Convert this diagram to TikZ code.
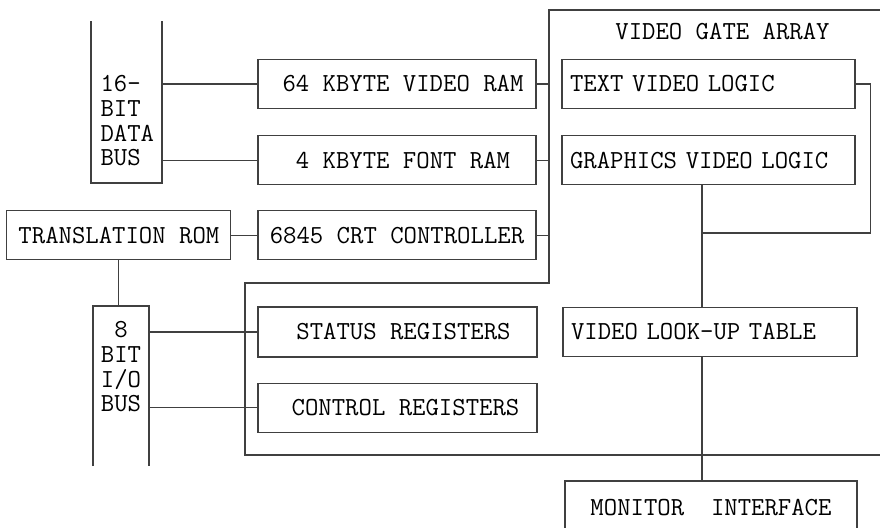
\documentclass[tikz,border=0pt]{standalone}
\usepackage{fontspec}
\usetikzlibrary{positioning,calc}

\begin{document}
\begin{tikzpicture}[x=0.5pt,y=-0.5pt,
    line width=0.55pt, draw=black!75,
    blk/.style={draw, rectangle, inner sep=0pt, minimum height=24.5pt, font=\ttfamily\fontsize{13}{12.35}\selectfont},
    blkl/.style={blk, text width=138.5pt, inner xsep=4pt, align=left},
    txt/.style={inner sep=0pt, font=\ttfamily\fontsize{13}{12.35}\selectfont}
]
    \useasboundingbox (0,0) rectangle (880,527);
    \clip (0,0) rectangle (880,527);

    % memory column
    \node[blk, minimum width=139pt] (vram) at (397,84) {\hspace{6pt}64 KBYTE VIDEO RAM};
    \node[blk, minimum width=139pt, below=13pt of vram] (fram) {\hspace{6pt}4 KBYTE FONT RAM};
    \node[blk, minimum width=139pt, below=12.5pt of fram] (crtc) {6845 CRT CONTROLLER};
    \node[blk, minimum width=112pt, left=13pt of crtc] (trom) {TRANSLATION ROM};

    \node[blk, minimum width=139.5pt, minimum height=25pt] (status) at (397.5,332) {\hspace{6pt}STATUS REGISTERS};
    \node[blk, minimum width=139.5pt, below=12.5pt of status] (control) {\hspace{8pt}CONTROL REGISTERS};

    % video gate array
    \node[txt, anchor=base] (galabel) at (722.5,39) {VIDEO GATE ARRAY};
    \node[blkl] (tvl) at (708.5,84) {TEXT VIDEO LOGIC};
    \node[blkl, below=13pt of tvl] (gvl) {GRAPHICS VIDEO LOGIC};
    \node[blkl, text width=139pt] (lut) at (710,332) {VIDEO LOOK-UP TABLE};
    \node[blk, minimum width=146pt, minimum height=27pt] (mon) at (711,508) {MONITOR\ \ INTERFACE};

    \coordinate (gal) at (549,10);
    \draw (880,10) -| (549,283) -| (245,455) -- (880,455);

    % buses
    \coordinate (dbl) at (91,21);
    \coordinate (dbr) at (162,183);
    \draw (dbl) |- (dbr) -- (dbr |- dbl);
    \node[txt, anchor=north west, align=left] (dbus) at (100,75) {16-\\BIT\\DATA\\BUS};

    \coordinate (iol) at (93,466);
    \coordinate (ior) at (149,306);
    \draw (iol) |- (ior) -- (ior |- iol);
    \node[txt, anchor=north, align=center] (iobus) at (121,321) {8\\BIT\\I/O\\BUS};

    % connections
    \draw (vram.west -| dbr) -- (vram.west);
    \draw (fram.west -| dbr) -- (fram.west);
    \draw (status.west -| ior) -- (status.west);
    \draw (control.west -| ior) -- (control.west);
    \draw (trom) -- (crtc);
    \draw (trom.south) -- (trom.south |- ior);
    \foreach \n in {vram,fram,crtc}
        \draw (\n.east) -- (\n.east -| gal);

    \coordinate (vjoin) at (702,233);
    \draw (tvl.east) -- ++(15,0) |- (vjoin);
    \draw (gvl.south -| vjoin) -- (lut.north -| vjoin);
    \draw (lut.south -| vjoin) -- (mon.north -| vjoin);
\end{tikzpicture}
\end{document}
